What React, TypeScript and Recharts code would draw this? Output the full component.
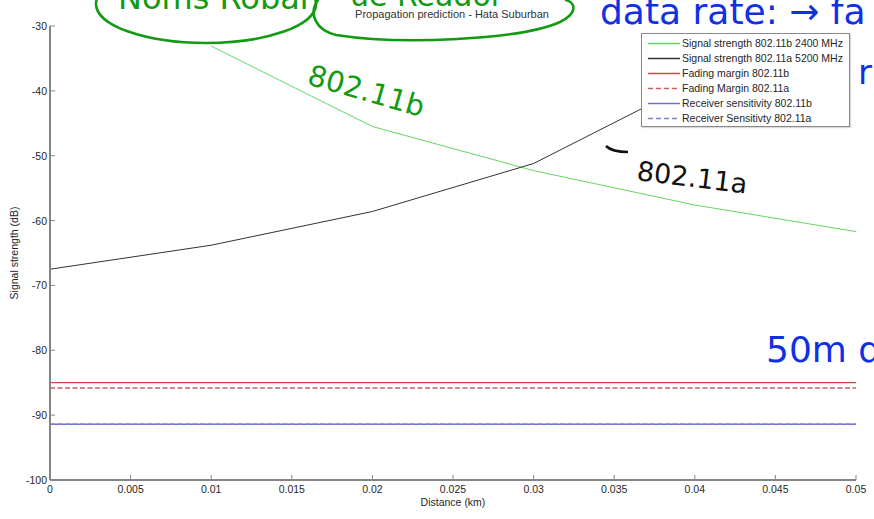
import React from 'react';
import { LineChart, Line, XAxis, YAxis, Legend, Label } from 'recharts';

// ---- data ----
const distances = [0, 0.01, 0.02, 0.03, 0.04, 0.05];
const signal11b = [null, -33.1, -45.5, -52.3, -57.6, -61.7];
const signal11a = [-67.5, -63.8, -58.6, -51.2, -38.6, null];
const fadingMargin11b = [-85.0, -85.0, -85.0, -85.0, -85.0, -85.0];
const fadingMargin11a = [-85.8, -85.8, -85.8, -85.8, -85.8, -85.8];
const rxSensitivity11b = [-91.4, -91.4, -91.4, -91.4, -91.4, -91.4];
const rxSensitivity11a = [-91.4, -91.4, -91.4, -91.4, -91.4, -91.4];

const xTicks = [0, 0.005, 0.01, 0.015, 0.02, 0.025, 0.03, 0.035, 0.04, 0.045, 0.05];
const xTickLabels = ['0', '0.005', '0.01', '0.015', '0.02', '0.025', '0.03', '0.035', '0.04', '0.045', '0.05'];
const yTicks = [-100, -90, -80, -70, -60, -50, -40, -30];
const yTickLabels = ['-100', '-90', '-80', '-70', '-60', '-50', '-40', '-30'];

const title = 'Propagation prediction - Hata Suburban';
const xTitle = 'Distance (km)';
const yTitle = 'Signal strength (dB)';

const series = [
  { key: 's11b', name: 'Signal strength 802.11b 2400 MHz', values: signal11b, color: '#62d862', dash: undefined as string | undefined, width: 1 },
  { key: 's11a', name: 'Signal strength 802.11a 5200 MHz', values: signal11a, color: '#333333', dash: undefined, width: 1 },
  { key: 'fm11b', name: 'Fading margin 802.11b', values: fadingMargin11b, color: '#d04848', dash: undefined, width: 1.2 },
  { key: 'fm11a', name: 'Fading Margin 802.11a', values: fadingMargin11a, color: '#c86060', dash: '5 2.5', width: 1.5 },
  { key: 'rx11b', name: 'Receiver sensitivity 802.11b', values: rxSensitivity11b, color: '#6e6ed0', dash: undefined, width: 1.5 },
  { key: 'rx11a', name: 'Receiver Sensitivty 802.11a', values: rxSensitivity11a, color: '#7e7ed8', dash: '5 2.5', width: 1.5 },
];

const data = distances.map((d, i) => {
  const row: any = { d };
  series.forEach((s) => { row[s.key] = s.values[i]; });
  return row;
});

const FONT = 'Liberation Sans, Arial, sans-serif';
const AXIS = '#858585';
const TXT = '#262626';

const BottomTick = (p: any) => {
  const idx = xTicks.indexOf(p.payload.value);
  return (
    <g>
      <line x1={p.x} y1={p.y} x2={p.x} y2={p.y - 5} stroke={AXIS} strokeWidth={1} />
      <text x={p.x} y={p.y + 13} textAnchor="middle" fontSize={10.5} fontFamily={FONT} fill={TXT}>
        {idx >= 0 ? xTickLabels[idx] : String(p.payload.value)}
      </text>
    </g>
  );
};
const TopTick = (p: any) => (
  <line x1={p.x} y1={p.y} x2={p.x} y2={p.y + 5} stroke={AXIS} strokeWidth={1} />
);
const LeftTick = (p: any) => {
  const idx = yTicks.indexOf(p.payload.value);
  return (
    <g>
      <line x1={p.x} y1={p.y} x2={p.x + 5} y2={p.y} stroke={AXIS} strokeWidth={1} />
      <text x={p.x - 3} y={p.y + 4} textAnchor="end" fontSize={10.5} fontFamily={FONT} fill={TXT}>
        {idx >= 0 ? yTickLabels[idx] : String(p.payload.value)}
      </text>
    </g>
  );
};
const RightTick = (p: any) => (
  <line x1={p.x} y1={p.y} x2={p.x - 5} y2={p.y} stroke={AXIS} strokeWidth={1} />
);

const LegendBox = () => (
  <div
    style={{
      width: 209,
      height: 94,
      border: '1px solid #8a8a8a',
      background: '#fff',
      boxShadow: '1px 1px 1px rgba(0,0,0,0.15)',
      paddingTop: 2,
      boxSizing: 'border-box',
    }}
  >
    {series.map((s, i) => (
      <div key={i} style={{ height: 15, display: 'flex', alignItems: 'center' }}>
        <svg width={40} height={15} style={{ display: 'block' }}>
          <line x1={6} y1={7.5} x2={38} y2={7.5} stroke={s.color} strokeWidth={1.5} strokeDasharray={s.dash ? '5 3' : undefined} />
        </svg>
        <span style={{ fontFamily: FONT, fontSize: 10.5, color: TXT, whiteSpace: 'nowrap', lineHeight: '15px' }}>{s.name}</span>
      </div>
    ))}
  </div>
);

const Ink = () => (
  <svg width={874} height={519} style={{ position: 'absolute', left: 0, top: 0, pointerEvents: 'none' }}>
    <text x={452} y={18} textAnchor="middle" fontSize={11} fontFamily={FONT} fill="#333">{title}</text>
    <g fill="none" stroke="#129a12" strokeWidth={2.6} strokeLinecap="round">
      <ellipse cx={206} cy={4} rx={110} ry={39} />
      <path d="M 318 0 C 308 14 316 30 336 35 C 400 45 520 40 560 22 C 580 12 574 2 566 0" />
    </g>
    <g fontFamily="DejaVu Sans, sans-serif">
      <text x={118} y={9} fontSize={32} fill="#129a12">Noms Robar</text>
      <text x={350} y={6} fontSize={30} fill="#129a12">ue Reador</text>
      <text x={306} y={84} fontSize={29} fill="#129a12" transform="rotate(16 306 84)">802.11b</text>
      <text x={636} y={180} fontSize={27} fill="#111" transform="rotate(7 636 180)">802.11a</text>
      <path d="M 606 146 C 610 150 616 152 628 152" stroke="#111" strokeWidth={2.5} fill="none" />
      <text x={600} y={24} fontSize={36} fill="#1030e6">data rate: → fa</text>
      <text x={858} y={84} fontSize={34} fill="#1030e6">r</text>
      <text x={766} y={362} fontSize={36} fill="#1030e6">50m dis</text>
    </g>
  </svg>
);

export default function App() {
  return (
    <div style={{ position: 'absolute', left: 0, top: 0, width: 874, height: 519, background: '#fff' }}>
      <LineChart width={874} height={519} data={data} margin={{ top: 26, right: 18, bottom: 9, left: 10 }}>
        <XAxis
          dataKey="d"
          type="number"
          domain={[0, 0.05]}
          ticks={xTicks}
          allowDataOverflow
          height={30}
          axisLine={{ stroke: AXIS, strokeWidth: 2 }}
          tickLine={false}
          tickSize={0}
          tickMargin={0}
          tick={BottomTick}
          interval={0}
        >
          <Label
            content={(p: any) => {
              const vb = p.viewBox || { x: 50, y: 480, width: 806 };
              return (
                <text x={vb.x + vb.width / 2} y={vb.y + 26} textAnchor="middle" fontSize={10.5} fontFamily={FONT} fill={TXT}>
                  {xTitle}
                </text>
              );
            }}
          />
        </XAxis>
        <XAxis
          xAxisId="top"
          orientation="top"
          dataKey="d"
          type="number"
          domain={[0, 0.05]}
          ticks={xTicks}
          allowDataOverflow
          height={0}
          axisLine={{ stroke: AXIS, strokeWidth: 2 }}
          tickLine={false}
          tickSize={0}
          tickMargin={0}
          tick={TopTick}
          interval={0}
        />
        <YAxis
          type="number"
          domain={[-100, -30]}
          ticks={yTicks}
          allowDataOverflow
          width={40}
          axisLine={{ stroke: AXIS, strokeWidth: 2 }}
          tickLine={false}
          tickSize={0}
          tickMargin={0}
          tick={LeftTick}
          interval={0}
        >
          <Label
            content={(p: any) => {
              const vb = p.viewBox || { x: 10, y: 26, height: 454 };
              const cx = vb.x + 4;
              const cy = vb.y + vb.height / 2;
              return (
                <text x={cx} y={cy} transform={`rotate(-90 ${cx} ${cy})`} textAnchor="middle" dominantBaseline="central" fontSize={10.5} fontFamily={FONT} fill={TXT}>
                  {yTitle}
                </text>
              );
            }}
          />
        </YAxis>
        <YAxis
          yAxisId="right"
          orientation="right"
          type="number"
          domain={[-100, -30]}
          ticks={yTicks}
          allowDataOverflow
          width={0}
          axisLine={{ stroke: AXIS, strokeWidth: 2 }}
          tickLine={false}
          tickSize={0}
          tickMargin={0}
          tick={RightTick}
          interval={0}
        />
        {series.map((s) => (
          <Line
            key={s.key}
            dataKey={s.key}
            name={s.name}
            type="linear"
            stroke={s.color}
            strokeWidth={s.width}
            strokeDasharray={s.dash}
            dot={false}
            activeDot={false}
            connectNulls={false}
            isAnimationActive={false}
          />
        ))}
        <Legend
          layout="vertical"
          align="center"
          verticalAlign="middle"
          content={LegendBox}
          wrapperStyle={{ position: 'absolute', left: 641, top: 33, width: 209, height: 94 }}
        />
      </LineChart>
      <Ink />
    </div>
  );
}
